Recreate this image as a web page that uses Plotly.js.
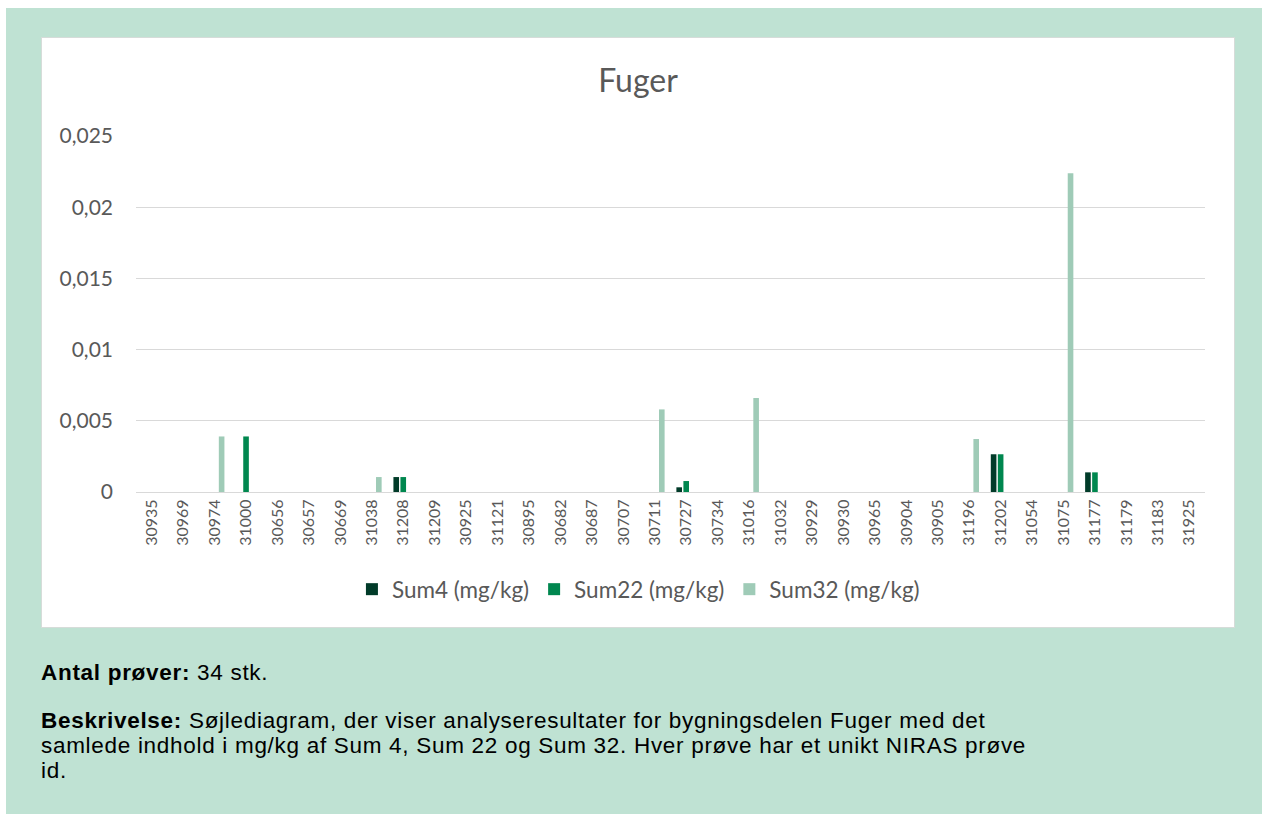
<!DOCTYPE html>
<html>
<head>
<meta charset="utf-8">
<script src="https://cdn.plot.ly/plotly-3.0.1.min.js"></script>
<style>
  body { margin: 0; background: #fff; }
  #page { position: absolute; left: 6px; top: 8px; width: 1256px; height: 806px; background: #bfe2d3; }
  #box { position: absolute; left: 35px; top: 29px; width: 1192px; height: 589px; background: #fff; border: 1px solid #d6dcd9; }
  #chart { width: 1192px; height: 589px; }
  .txt { position: absolute; left: 35px; font-family: "Liberation Sans", Arial, sans-serif; font-size: 22.5px; letter-spacing: 0.7px; color: #000; line-height: 25px; white-space: nowrap; }
</style>
</head>
<body>
<div id="page">
  <div id="box"><div id="chart"></div></div>
  <div class="txt" style="top:652px"><b>Antal prøver:</b> 34 stk.</div>
  <div class="txt" style="top:700px"><b>Beskrivelse:</b> Søjlediagram, der viser analyseresultater for bygningsdelen Fuger med det<br>samlede indhold i mg/kg af Sum 4, Sum 22 og Sum 32. Hver prøve har et unikt NIRAS prøve<br>id.</div>
</div>
<script>
// sample ids (NIRAS prøve id)
const proever = ['30935', '30969', '30974', '31000', '30656', '30657', '30669', '31038', '31208', '31209',
  '30925', '31121', '30895', '30682', '30687', '30707', '30711', '30727', '30734', '31016',
  '31032', '30929', '30930', '30965', '30904', '30905', '31196', '31202', '31054', '31075',
  '31177', '31179', '31183', '31925'];

// values in mg/kg, null = not detected (no bar)
const sum4 = [null, null, null, null, null, null, null, null, 0.00105, null,
  null, null, null, null, null, null, null, 0.00033, null, null,
  null, null, null, null, null, null, null, 0.00265, null, null,
  0.00138, null, null, null];
const sum22 = [null, null, null, 0.0039, null, null, null, null, 0.00105, null,
  null, null, null, null, null, null, null, 0.00077, null, null,
  null, null, null, null, null, null, null, 0.00265, null, null,
  0.00138, null, null, null];
const sum32 = [null, null, 0.0039, null, null, null, null, 0.00105, null, null,
  null, null, null, null, null, null, 0.0058, null, null, 0.0066,
  null, null, null, null, null, null, 0.00372, null, null, 0.02238,
  null, null, null, null];

const yTicks = [0, 0.005, 0.01, 0.015, 0.02, 0.025];

const traces = [
  { x: proever, y: sum4, name: 'Sum4 (mg/kg)', type: 'bar', marker: { color: '#013b29' } },
  { x: proever, y: sum22, name: 'Sum22 (mg/kg)', type: 'bar', marker: { color: '#00874f' } },
  { x: proever, y: sum32, name: 'Sum32 (mg/kg)', type: 'bar', marker: { color: '#9fcbb7' } }
];

const layout = {
  width: 1192,
  height: 589,
  margin: { l: 94, r: 29, t: 98, b: 135, autoexpand: false },
  paper_bgcolor: '#fff',
  plot_bgcolor: '#fff',
  separators: ',.',
  barmode: 'group',
  bargap: 0.33,
  bargroupgap: 0.2,
  font: { family: 'Lato, "Open Sans", sans-serif', color: '#595959' },
  title: {
    text: 'Fuger',
    font: { size: 32, color: '#595959', family: 'Lato, "Open Sans", sans-serif' },
    x: 0.5, xref: 'container', y: 0.927, yref: 'container', yanchor: 'middle'
  },
  xaxis: {
    type: 'category',
    tickmode: 'array',
    tickvals: proever,
    tickangle: -90,
    tickfont: { size: 16, color: '#595959' },
    showgrid: false,
    showline: true,
    linecolor: '#d9d9d9',
    linewidth: 1,
    ticks: '',
    automargin: false
  },
  yaxis: {
    range: [0, 0.025],
    tickvals: yTicks,
    tickformat: '~g',
    tickfont: { size: 21, color: '#595959' },
    showgrid: true,
    gridcolor: '#d9d9d9',
    gridwidth: 1,
    zeroline: true,
    zerolinecolor: '#d9d9d9',
    zerolinewidth: 1,
    ticks: '',
    ticklabelstandoff: 22,
    automargin: false
  },
  showlegend: true,
  legend: {
    orientation: 'h',
    x: 0.47, xanchor: 'center',
    y: -0.274, yanchor: 'middle',
    font: { size: 22.5, color: '#595959' },
    itemwidth: 30,
    traceorder: 'normal'
  }
};

Plotly.newPlot('chart', traces, layout, { displayModeBar: false, staticPlot: true });
</script>
</body>
</html>
